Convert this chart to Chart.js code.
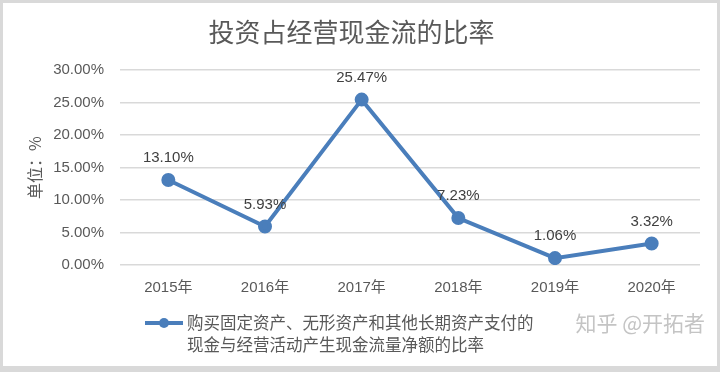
<!DOCTYPE html>
<html>
<head>
<meta charset="utf-8">
<script src="https://cdn.jsdelivr.net/npm/chart.js@4"></script>
<style>
  html, body { margin: 0; padding: 0; background: #fff; }
  #wrap {
    width: 720px; height: 372px; box-sizing: border-box;
    border: 3px solid #d9d9d9; border-bottom-width: 6px; background: #fff;
  }
  #wrap canvas { display: block; }
</style>
</head>
<body>
<div id="wrap"><canvas id="chart" width="714" height="363"></canvas></div>
<script>
const years = ["2015年", "2016年", "2017年", "2018年", "2019年", "2020年"];
const ratio = [13.10, 5.93, 25.47, 7.23, 1.06, 3.32];
const seriesName = ["购买固定资产、无形资产和其他长期资产支付的", "现金与经营活动产生现金流量净额的比率"];
const titleText = "投资占经营现金流的比率";
const yTitle = "单位：%";
const watermark = "知乎 @开拓者";

const blue = "#4A7EBB";
const grey = "#595959";
const latin = "'Liberation Sans', 'Noto Sans CJK SC', sans-serif";
const cjk = "'Noto Sans CJK SC', sans-serif";

// value labels above points, legend and watermark
const extras = {
  id: "extras",
  afterDatasetsDraw(chart) {
    const ctx = chart.ctx;
    const meta = chart.getDatasetMeta(0);
    ctx.save();
    ctx.font = "15px " + latin;
    ctx.fillStyle = "#404040";
    ctx.textAlign = "center";
    ctx.textBaseline = "middle";
    meta.data.forEach((pt, i) => {
      ctx.fillText(ratio[i].toFixed(2) + "%", pt.x, pt.y - 22);
    });

    // legend
    const ly = 320;
    ctx.strokeStyle = blue;
    ctx.lineWidth = 4;
    ctx.beginPath();
    ctx.moveTo(142, ly);
    ctx.lineTo(180, ly);
    ctx.stroke();
    ctx.fillStyle = blue;
    ctx.beginPath();
    ctx.arc(161, ly, 5, 0, Math.PI * 2);
    ctx.fill();
    ctx.font = "16.5px " + cjk;
    ctx.fillStyle = grey;
    ctx.textAlign = "left";
    ctx.fillText(seriesName[0], 184, ly);
    ctx.fillText(seriesName[1], 184, ly + 22);

    // watermark
    ctx.font = "21px " + cjk;
    ctx.fillStyle = "#c4c4c4";
    ctx.textAlign = "right";
    ctx.fillText(watermark, 702, ly);
    ctx.restore();
  }
};

new Chart(document.getElementById("chart"), {
  type: "line",
  data: {
    labels: years,
    datasets: [
      {
        label: seriesName.join(""),
        data: ratio,
        borderColor: blue,
        backgroundColor: blue,
        borderWidth: 4,
        pointRadius: 5,
        pointHoverRadius: 5,
        tension: 0,
      },
    ],
  },
  options: {
    responsive: false,
    animation: false,
    layout: {
      padding: { left: 0, right: 17, top: 0, bottom: 55 },
    },
    plugins: {
      legend: { display: false },
      tooltip: { enabled: false },
      title: {
        display: true,
        text: titleText,
        color: grey,
        font: { family: cjk, size: 26, weight: "normal" },
        padding: { top: 14, bottom: 22 },
      },
    },
    scales: {
      x: {
        offset: true,
        grid: { display: false, drawTicks: false },
        border: { display: false },
        ticks: {
          color: grey,
          font: { family: latin, size: 15 },
          padding: 14,
        },
      },
      y: {
        min: 0,
        max: 30,
        afterFit(scale) {
          scale.width = 117;
        },
        grid: { color: "#d9d9d9", lineWidth: 1.5, drawTicks: false },
        border: { display: false },
        ticks: {
          stepSize: 5,
          color: grey,
          font: { family: latin, size: 15 },
          padding: 16,
          callback: (v) => v.toFixed(2) + "%",
        },
        title: {
          display: true,
          text: yTitle,
          color: grey,
          font: { family: cjk, size: 16 },
          padding: { top: 22, bottom: 0 },
        },
      },
    },
  },
  plugins: [extras],
});
</script>
</body>
</html>
